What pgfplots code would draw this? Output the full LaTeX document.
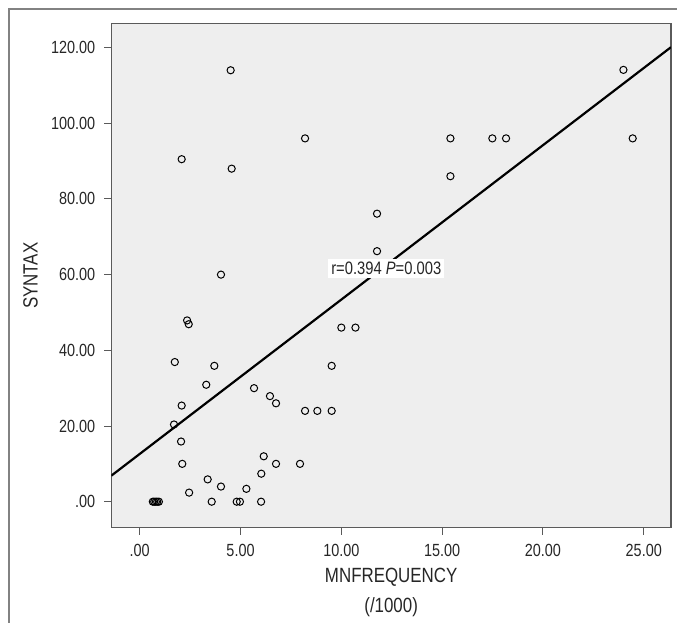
\documentclass[border=0pt]{standalone}
\usepackage{fontspec}
\setmainfont{Liberation Sans}[FakeStretch=0.82]
\usepackage{pgfplots}
\pgfplotsset{compat=1.18}
\usetikzlibrary{calc}

\definecolor{plotbg}{RGB}{238,238,238}
\definecolor{axisgray}{RGB}{90,90,90}
\definecolor{framegray}{RGB}{130,130,130}

\pgfplotstableread{
x y
4.51 114.0
8.20 96.0
2.08 90.5
4.56 88.0
4.03 60.0
2.35 47.9
2.43 46.9
1.74 36.9
3.70 35.9
3.30 30.9
5.67 30.0
6.46 27.9
6.76 26.0
2.08 25.4
8.20 24.0
8.81 24.0
9.52 24.0
9.52 35.9
1.70 20.4
2.05 15.9
2.11 10.0
6.15 12.0
6.76 10.0
7.95 10.0
6.03 7.4
3.37 5.9
4.03 4.0
5.29 3.4
2.45 2.4
3.57 0.0
4.81 0.0
4.97 0.0
6.02 0.0
0.65 0.0
0.72 0.0
0.80 0.0
0.87 0.0
0.95 0.0
10.0 46.0
10.7 46.0
23.99 114.1
24.45 96.0
15.41 96.0
17.49 96.0
18.17 96.0
15.41 86.0
11.77 76.1
11.77 66.2
}\points

\begin{document}
\begin{tikzpicture}
\begin{axis}[
  name=ax,
  at={(0,0)}, anchor=south west,
  scale only axis,
  width=279.85pt, height=252pt,
  xmin=-1.41, xmax=26.35,
  ymin=-6.87, ymax=126.3,
  axis background/.style={fill=plotbg},
  axis line style={axisgray, line width=0.6pt},
  tick pos=left,
  tick align=outside,
  major tick length=3.5pt,
  tick style={axisgray, line width=0.5pt},
  xtick={0,5,10,15,20,25},
  xticklabels={.00,5.00,10.00,15.00,20.00,25.00},
  ytick={0,20,40,60,80,100,120},
  yticklabels={.00,20.00,40.00,60.00,80.00,100.00,120.00},
  tick label style={font=\fontsize{8.8}{11}\selectfont, text=black!85},
  yticklabel style={xshift=-1pt},
  xticklabel style={yshift=-1pt},
  xlabel={MNFREQUENCY\\(/1000)},
  xlabel style={at={(axis description cs:0.5,0)}, anchor=center, yshift=-32.15pt,
    align=center, font=\fontsize{10.3}{15}\selectfont, text=black!85},
  ylabel={SYNTAX},
  ylabel style={at={(axis description cs:-0.1444,0.5)}, anchor=center,
    font=\fontsize{10.3}{11}\selectfont, text=black!85},
  clip=true,
]
\addplot[black, line width=1.1pt] coordinates {(-1.41,6.87) (26.35,120.1)};
\addplot[only marks, mark=o, mark size=1.8pt, black, mark options={line width=0.5pt}] table[x=x,y=y] {\points};
\node[fill=white, inner sep=1.5pt, font=\fontsize{9}{11}\selectfont, text=black!85] at (axis cs:12.23,61.56) {r=0.394 \textit{P}=0.003};
\end{axis}
\pgfresetboundingbox
\useasboundingbox (ax.south west) ++(-55.65pt,-47.65pt) rectangle ++(338.5pt,311.5pt);
\draw[framegray, line width=0.6pt] ($(ax.south west)+(-51.15pt,-60pt)$) -- ($(ax.south west)+(-51.15pt,259.35pt)$) -- ($(ax.south west)+(300pt,259.35pt)$);
\end{tikzpicture}
\end{document}
